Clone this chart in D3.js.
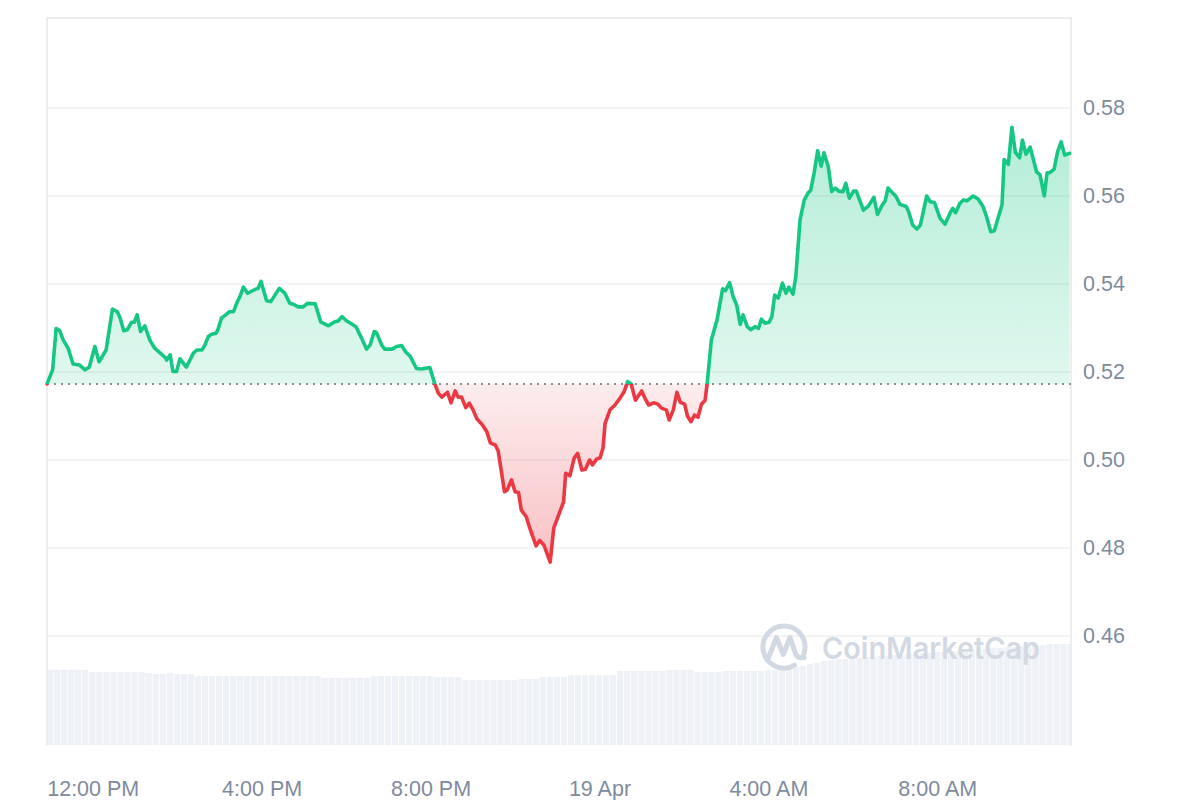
<!DOCTYPE html>
<html><head><meta charset="utf-8">
<script src="https://cdn.jsdelivr.net/npm/d3@7"></script>
<style>body{margin:0;background:#fff}svg{display:block}</style>
</head><body><svg id="c" width="1200" height="800"></svg>
<script>
// ---------- DATA ----------
const startTime = "2024-04-18T10:55";
const endTime = "2024-04-19T11:10";
const baselinePrice = 0.5173;
// minutes after startTime
const minutes = [0,8,13,18,23,30,37,46,54,60,68,74,84,93,100,104,109,114,120,124,128,133,139,146,153,161,168,170,175,179,184,189,198,208,213,220,224,229,234,240,243,248,255,259,265,270,274,279,285,296,300,304,312,318,330,338,345,350,357,364,370,381,389,400,409,414,419,425,433,439,447,454,459,465,468,476,480,490,497,504,510,516,525,532,544,551,556,561,569,574,580,584,589,595,600,605,611,618,625,630,637,641,646,650,654,660,665,670,674,681,686,695,700,706,715,720,728,734,737,743,749,754,760,765,771,775,781,786,790,793,800,807,814,820,825,830,836,845,851,855,862,868,873,880,884,890,895,900,906,910,915,920,925,930,935,938,944,952,960,964,970,975,980,985,989,995,1000,1006,1011,1015,1020,1026,1030,1034,1039,1045,1050,1054,1060,1064,1070,1076,1082,1085,1090,1095,1100,1104,1110,1115,1120,1125,1131,1135,1140,1146,1150,1160,1167,1175,1180,1186,1191,1195,1202,1206,1212,1221,1225,1230,1236,1241,1250,1255,1261,1269,1276,1283,1287,1291,1297,1302,1307,1316,1323,1330,1335,1341,1346,1357,1360,1366,1371,1376,1382,1386,1391,1397,1406,1411,1417,1421,1425,1431,1436,1441,1446,1453];
const prices = [
0.5173,0.5205,0.5299,0.5294,0.5273,0.5254,0.5218,0.5216,0.5205,0.5211,
0.5258,0.5223,0.5250,0.5343,0.5337,0.5322,0.5294,0.5296,0.5313,0.5313,
0.5330,0.5292,0.5305,0.5273,0.5254,0.5243,0.5233,0.5227,0.5239,0.5201,
0.5201,0.5230,0.5211,0.5243,0.5250,0.5250,0.5260,0.5280,0.5286,0.5288,
0.5297,0.5323,0.5331,0.5337,0.5337,0.5358,0.5371,0.5393,0.5379,0.5388,
0.5390,0.5406,0.5362,0.5360,0.5390,0.5379,0.5356,0.5354,0.5348,0.5348,
0.5356,0.5355,0.5314,0.5305,0.5314,0.5316,0.5326,0.5317,0.5309,0.5303,
0.5277,0.5252,0.5261,0.5292,0.5290,0.5260,0.5252,0.5252,0.5258,0.5260,
0.5245,0.5236,0.5208,0.5207,0.5210,0.5173,0.5152,0.5143,0.5154,0.5130,
0.5157,0.5143,0.5143,0.5119,0.5129,0.5115,0.5093,0.5081,0.5064,0.5039,
0.5034,0.5021,0.4970,0.4928,0.4932,0.4955,0.4928,0.4926,0.4886,0.4871,
0.4845,0.4805,0.4817,0.4807,0.4768,0.4845,0.4879,0.4905,0.4970,0.4964,
0.5004,0.5015,0.4977,0.4979,0.5000,0.4989,0.5002,0.5005,0.5027,0.5083,
0.5114,0.5125,0.5140,0.5155,0.5178,0.5173,0.5136,0.5157,0.5136,0.5125,
0.5130,0.5127,0.5118,0.5114,0.5091,0.5114,0.5154,0.5131,0.5127,0.5100,
0.5087,0.5102,0.5097,0.5127,0.5135,0.5173,0.5273,0.5318,0.5389,0.5385,
0.5403,0.5371,0.5352,0.5308,0.5330,0.5303,0.5296,0.5303,0.5299,0.5320,
0.5311,0.5313,0.5326,0.5375,0.5368,0.5402,0.5379,0.5393,0.5377,0.5417,
0.5546,0.5591,0.5608,0.5612,0.5652,0.5703,0.5668,0.5698,0.5667,0.5610,
0.5618,0.5611,0.5610,0.5629,0.5595,0.5611,0.5611,0.5568,0.5577,0.5597,
0.5558,0.5577,0.5589,0.5618,0.5606,0.5600,0.5581,0.5576,0.5561,0.5534,
0.5525,0.5534,0.5600,0.5587,0.5585,0.5549,0.5536,0.5561,0.5572,0.5562,
0.5583,0.5591,0.5589,0.5600,0.5593,0.5576,0.5553,0.5519,0.5521,0.5580,
0.5683,0.5672,0.5756,0.5699,0.5687,0.5727,0.5695,0.5711,0.5655,0.5648,
0.5600,0.5653,0.5653,0.5661,0.5701,0.5723,0.5693,0.5697];
// 24h volume (relative units), one bar per 10 minutes from startTime
const volumeStepMinutes = 10;
const volumes = [
75,75,75,75,75,75, 73,73,73,73,73,73, 73,73,72,71,71,72, 71,71,71,69,69,69,
69,69,69,69,69,69, 69,69,69,69,69,69, 69,69,69,67,67,67, 67,67,67,67,69,69,
69,69,69,69,69,69, 69,68,68,68,68,65, 65,65,65,65,65,65, 65,66,66,66,68,68,
68,68,70,70,70,70, 70,70,70,74,74,74, 74,74,74,74,75,75, 75,75,73,73,73,73,
74,74,74,74,74,74, 75,75,75,77,78,79, 81,82,84,85,86,86, 87,87,88,88,89,89,
90,90,91,91,92,92, 93,93,94,94,95,95, 96,96,97,97,98,98, 99,99,100,100,101,101,
101,101];
const yTicks = [0.46,0.48,0.50,0.52,0.54,0.56,0.58];
const xTicks = ["2024-04-18T12:00","2024-04-18T16:00","2024-04-18T20:00","2024-04-19T00:00","2024-04-19T04:00","2024-04-19T08:00"];
const xTickLabels = ["12:00 PM","4:00 PM","8:00 PM","19 Apr","4:00 AM","8:00 AM"];

// ---------- CHART ----------
const parse = d3.timeParse("%Y-%m-%dT%H:%M");
const t0 = parse(startTime), t1 = parse(endTime);
const data = minutes.map((m,i)=>({t:d3.timeMinute.offset(t0,m), p:prices[i]}));
const L=47, R=1071, T=18, B=746;
const x = d3.scaleTime().domain([t0,t1]).range([L,R]);
const y = d3.scaleLinear().domain([0.46,0.58]).range([636,108]);
const yv = d3.scaleLinear().domain([0,100]).range([745,645]);
const by = y(baselinePrice);
const green = "#16c784", red = "#ea3943", labelColor = "#808a9d";
const font = "'Liberation Sans', Arial, Helvetica, sans-serif";

const svg = d3.select("#c");
svg.append("rect").attr("width",1200).attr("height",800).attr("fill","#fff");
const defs = svg.append("defs");
defs.append("clipPath").attr("id","plot").append("rect")
  .attr("x",L).attr("y",T).attr("width",R-L).attr("height",B-T);
defs.append("clipPath").attr("id","above").append("rect")
  .attr("x",L-5).attr("y",0).attr("width",R-L+10).attr("height",by);
defs.append("clipPath").attr("id","below").append("rect")
  .attr("x",L-5).attr("y",by).attr("width",R-L+10).attr("height",800-by);
const gg = defs.append("linearGradient").attr("id","gGrad")
  .attr("gradientUnits","userSpaceOnUse").attr("x1",0).attr("x2",0).attr("y1",120).attr("y2",by);
gg.append("stop").attr("offset",0).attr("stop-color",green).attr("stop-opacity",0.33);
gg.append("stop").attr("offset",1).attr("stop-color",green).attr("stop-opacity",0.13);
const rg = defs.append("linearGradient").attr("id","rGrad")
  .attr("gradientUnits","userSpaceOnUse").attr("x1",0).attr("x2",0).attr("y1",by).attr("y2",565);
rg.append("stop").attr("offset",0).attr("stop-color",red).attr("stop-opacity",0.09);
rg.append("stop").attr("offset",1).attr("stop-color",red).attr("stop-opacity",0.32);

// volume bars
const bw = x(d3.timeMinute.offset(t0,volumeStepMinutes)) - x(t0);
svg.append("g").attr("clip-path","url(#plot)")
  .selectAll("rect").data(volumes).join("rect")
  .attr("x",(d,i)=>x(d3.timeMinute.offset(t0,i*volumeStepMinutes)))
  .attr("width",bw-0.8)
  .attr("y",d=>yv(d)).attr("height",d=>yv(0)-yv(d))
  .attr("fill","#eef1f5");

// gridlines
svg.append("g").selectAll("line").data(yTicks).join("line")
  .attr("x1",L).attr("x2",R).attr("y1",d=>y(d)).attr("y2",d=>y(d))
  .attr("stroke","#efefef").attr("stroke-width",1.5);

// frame
const frame = svg.append("g").attr("stroke","#ececec").attr("stroke-width",1.8).attr("fill","none");
frame.append("path").attr("d",`M${L},${B}V${T}H${R}V${B}`);

// watermark
const wm = svg.append("g").attr("fill","none").attr("stroke","#d3d9e3").attr("stroke-width",5)
  .attr("stroke-linecap","round").attr("stroke-linejoin","round");
wm.append("path").attr("d","M794.5,665.2 A21,21 0 1 1 803.7,654.2");
wm.append("path").attr("d","M768.5,657.5 L776.5,637.5 L783.3,654.5 L790,637.5 L795.5,653.5 Q797.5,659 804,657.5");
svg.append("text").attr("x",822).attr("y",659).attr("font-family","Inter, 'Noto Sans', sans-serif")
  .attr("font-weight",600).attr("font-size",30).attr("fill","#d3d9e3")
  .attr("textLength",218).attr("lengthAdjust","spacingAndGlyphs").text("CoinMarketCap");

// price area + line
const area = d3.area().x(d=>x(d.t)).y0(by).y1(d=>y(d.p));
const line = d3.line().x(d=>x(d.t)).y(d=>y(d.p));
svg.append("path").datum(data).attr("d",area).attr("fill","url(#gGrad)").attr("clip-path","url(#above)");
svg.append("path").datum(data).attr("d",area).attr("fill","url(#rGrad)").attr("clip-path","url(#below)");

// baseline dotted
svg.append("line").attr("x1",L).attr("x2",R).attr("y1",by).attr("y2",by)
  .attr("stroke","#8f8f8f").attr("stroke-width",2).attr("stroke-dasharray","2,5");

svg.append("path").datum(data).attr("d",line).attr("fill","none").attr("stroke",green)
  .attr("stroke-width",3.6).attr("stroke-linejoin","round").attr("stroke-linecap","round").attr("clip-path","url(#above)");
svg.append("path").datum(data).attr("d",line).attr("fill","none").attr("stroke",red)
  .attr("stroke-width",3.6).attr("stroke-linejoin","round").attr("stroke-linecap","round").attr("clip-path","url(#below)");

// axes
const yAxis = svg.append("g").attr("transform",`translate(${R},0)`)
  .call(d3.axisRight(y).tickValues(yTicks).tickFormat(d3.format(".2f")).tickSize(0).tickPadding(12));
yAxis.select(".domain").remove();
yAxis.selectAll("text").attr("font-family",font).attr("font-size",21.5).attr("fill",labelColor);

const xAxis = svg.append("g").attr("transform",`translate(0,${B})`)
  .call(d3.axisBottom(x).tickValues(xTicks.map(parse)).tickFormat((d,i)=>xTickLabels[i]).tickSize(0));
xAxis.select(".domain").remove();
xAxis.selectAll("text").attr("y",50).attr("dy",0)
  .attr("font-family",font).attr("font-size",21.5).attr("fill",labelColor);
</script></body></html>
